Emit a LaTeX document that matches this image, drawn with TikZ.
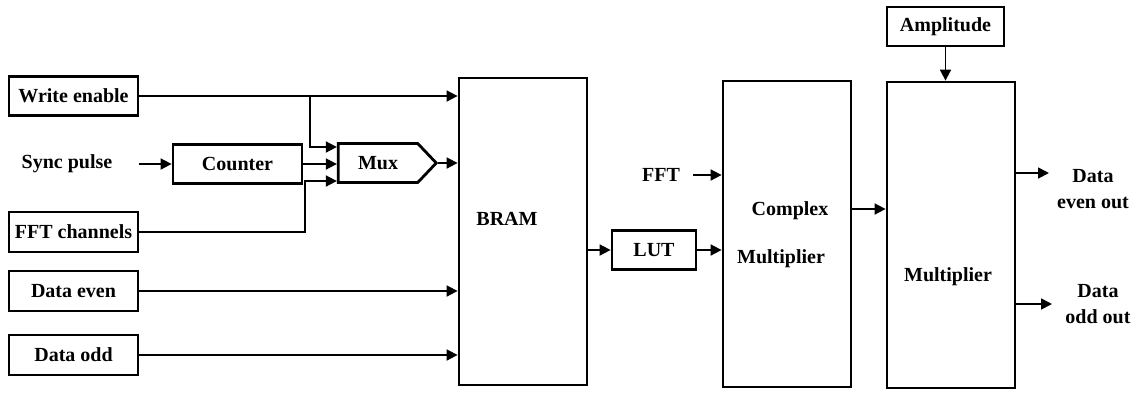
\documentclass[tikz,border=0pt]{standalone}
\usepackage{fontspec}
\setmainfont{Liberation Serif}
\usetikzlibrary{arrows.meta,shapes.symbols}
\begin{document}
\begin{tikzpicture}[x=0.5pt, y=-0.5pt, line width=0.9pt,
  font=\bfseries\fontsize{10}{12.8}\selectfont,
  blk/.style={draw, line width=1.4pt, inner sep=0pt},
  arr/.style={-{Triangle[length=5.5pt, width=5.5pt]}}]
  \useasboundingbox (0,0) rectangle (1137,392);
  % inputs
  \node[blk, minimum width=64.5pt, minimum height=19.5pt] (we) at (73.5,96) {Write enable};
  \node (sync) at (67,164) {Sync pulse};
  \node[blk, minimum width=64.5pt, minimum height=20pt] (fftch) at (73.5,232) {FFT channels};
  \node[blk, minimum width=64.5pt, minimum height=20pt] (de) at (73.5,291) {Data even};
  \node[blk, minimum width=64.5pt, minimum height=20pt] (dod) at (73.5,355) {Data odd};
  \node[blk, minimum width=64.5pt, minimum height=19.5pt] (counter) at (237.5,164) {Counter};
  \node[blk, signal, signal to=east, signal pointer angle=93, minimum width=49pt, minimum height=19.5pt] (mux) at (378,163) {Mux};
  % main blocks
  \node[blk, minimum width=64pt, minimum height=153.5pt] (bram) at (523,231.5) {};
  \node (bramtxt) at (507,219) {BRAM};
  \node[blk, minimum width=42pt, minimum height=19.5pt] (lut) at (654,250) {LUT};
  \node (fft) at (661,175) {FFT};
  \node[blk, minimum width=64pt, minimum height=153pt] (cmul) at (787,234) {};
  \node (cmultxt1) at (790,211) {Complex};
  \node (cmultxt2) at (781,259) {Multiplier};
  \node[blk, minimum width=58.5pt, minimum height=19.5pt] (amp) at (945.5,26.5) {Amplitude};
  \node[blk, minimum width=64pt, minimum height=153pt] (mult) at (951,235) {};
  \node (multtxt) at (948,277) {Multiplier};
  \coordinate (evout) at (1049,173);
  \coordinate (odout) at (1052,304);
  \node[align=center] (evtxt) at (1093,189) {Data\\even out};
  \node[align=center] (odtxt) at (1098,304) {Data\\odd out};
  % connectors
  \coordinate (wej) at (310,96);
  \coordinate (fftj) at (305,181);
  \draw[arr] (we.east) -- (we.east -| bram.west);
  \draw[arr] (wej) |- (mux.west |- 0,147);
  \draw[arr] (sync.east) ++(19,0) -- (counter.west);
  \draw[arr] (counter.east) -- (counter.east -| mux.west);
  \draw[arr] (fftch.east) -| (fftj) -- (fftj -| mux.west);
  \draw[arr] (mux.east) -- (mux.east -| bram.west);
  \draw[arr] (de.east) -- (de.east -| bram.west);
  \draw[arr] (dod.east) -- (dod.east -| bram.west);
  \draw[arr] (bram.east |- lut.west) -- (lut.west);
  \draw[arr] (lut.east) -- (lut.east -| cmul.west);
  \draw[arr] (fft.east) ++(6,0) -- (fft.east -| cmul.west);
  \draw[arr] (cmul.east |- 0,209) -- (mult.west |- 0,209);
  \draw[arr] (amp.south) -- (amp.south |- mult.north);
  \draw[arr] (mult.east |- evout) -- (evout);
  \draw[arr] (mult.east |- odout) -- (odout);
\end{tikzpicture}
\end{document}
